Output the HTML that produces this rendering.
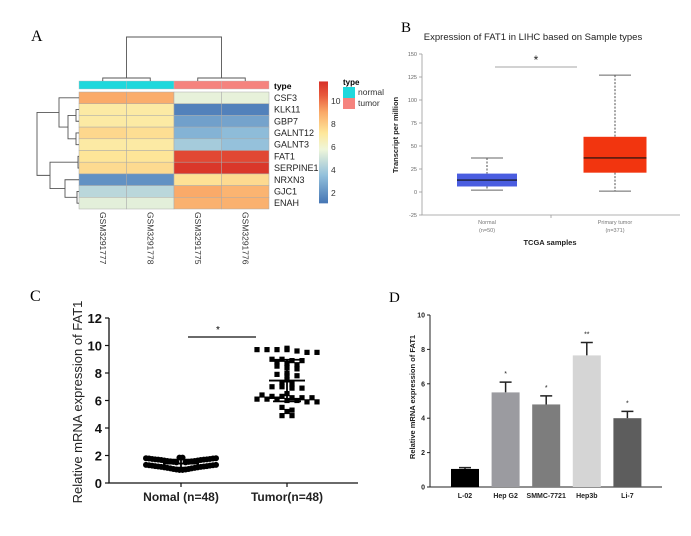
<!DOCTYPE html>
<html><head><meta charset="utf-8">
<style>
html,body{margin:0;padding:0;background:#fff;}
svg{display:block;font-family:"Liberation Sans",sans-serif;}
</style></head>
<body>
<svg id="fig" width="691" height="536" viewBox="0 0 691 536" xmlns="http://www.w3.org/2000/svg">
<g id="pA">
<text x="31" y="41" font-family="Liberation Serif,serif" font-size="16">A</text>
</g>
<g id="pB">
<text x="401" y="32" font-family="Liberation Serif,serif" font-size="15">B</text>
<text x="533" y="40" text-anchor="middle" font-size="9.5" fill="#222">Expression of FAT1 in LIHC based on Sample types</text>
</g>
<g id="pC">
<text x="30" y="301" font-family="Liberation Serif,serif" font-size="16">C</text>
</g>
<g id="pD">
<text x="389" y="302" font-family="Liberation Serif,serif" font-size="15">D</text>
</g>
</svg>
<script>
const NS="http://www.w3.org/2000/svg";
function mk(parent,tag,attrs,text){const e=document.createElementNS(NS,tag);for(const k in attrs)e.setAttribute(k,attrs[k]);if(text!==undefined)e.textContent=text;parent.appendChild(e);return e;}

// ---------- Panel A data ----------
const genes=["CSF3","KLK11","GBP7","GALNT12","GALNT3","FAT1","SERPINE1","NRXN3","GJC1","ENAH"];
const samples=["GSM3291777","GSM3291778","GSM3291775","GSM3291776"];
const sampleType=["normal","normal","tumor","tumor"];
const expr=[
[9.0,8.9,5.6,5.6],
[7.0,7.0,1.5,1.5],
[7.0,7.0,2.5,2.6],
[7.7,7.5,3.1,3.4],
[7.0,7.0,4.0,3.6],
[7.3,7.3,11.0,11.0],
[7.6,7.6,11.5,11.5],
[2.0,2.0,7.4,7.6],
[4.5,4.5,9.0,8.7],
[5.5,5.5,8.8,8.8]];
const cbTicks=[2,4,6,8,10];

const stops=[[1.1,[69,117,180]],[3.5,[145,191,219]],[5.8,[239,246,218]],[7.2,[254,232,155]],[9,[250,170,105]],[10.5,[232,90,60]],[11.7,[215,48,39]]];
function cmap(v){if(v<=stops[0][0])return stops[0][1];for(let i=1;i<stops.length;i++){if(v<=stops[i][0]){const a=stops[i-1],b=stops[i],t=(v-a[0])/(b[0]-a[0]);return a[1].map((c,k)=>Math.round(c+(b[1][k]-c)*t));}}return stops[stops.length-1][1];}
function rgb(c){return `rgb(${c[0]},${c[1]},${c[2]})`;}

(function(){
const g=document.getElementById('pA');
const hx=79,hy=92,cw=47.5,rh=11.7;
sampleType.forEach((t,j)=>{const r=mk(g,'rect',{x:hx+j*cw,y:81,width:cw,height:8,fill:t==='normal'?'#1fd8dc':'#f5837e',stroke:'#bbb','stroke-width':0.4});

});
const tl=mk(g,'text',{x:274,y:89,'font-size':8.5,'font-weight':'bold'},'type');


genes.forEach((gn,i)=>{
 expr[i].forEach((v,j)=>{const r=mk(g,'rect',{x:hx+j*cw,y:hy+i*rh,width:cw,height:rh,fill:rgb(cmap(v)),stroke:'#aaa','stroke-width':0.5});
 
 });
 const t=mk(g,'text',{x:274,y:hy+i*rh+rh/2+3,'font-size':9,fill:'#222'},gn);
 
 
});
samples.forEach((s,j)=>{const cx=hx+j*cw+cw/2;const t=mk(g,'text',{x:0,y:0,'font-size':8.5,fill:'#333',transform:`translate(${cx-3},212) rotate(90)`},s);

});
const cbY=v=>101+(10-v)*11.5;
const defs=mk(g,'defs',{});const lg=mk(defs,'linearGradient',{id:'cbg',x1:0,y1:1,x2:0,y2:0});
stops.forEach(s=>mk(lg,'stop',{offset:((s[0]-1.1)/(11.7-1.1)),'stop-color':rgb(s[1])}));
const cb=mk(g,'rect',{x:319,y:cbY(11.7),width:9,height:cbY(1.1)-cbY(11.7),fill:'url(#cbg)'});


cbTicks.forEach(v=>{const t=mk(g,'text',{x:331,y:cbY(v)+3,'font-size':8.5,fill:'#333'},String(v));

});
const lt=mk(g,'text',{x:343,y:85,'font-size':8,'font-weight':'bold'},'type');


[['normal','#1fd8dc'],['tumor','#f5837e']].forEach((d,i)=>{
 const r=mk(g,'rect',{x:343,y:87+i*11,width:12,height:11,fill:d[1]});
 
 
 const t=mk(g,'text',{x:358,y:95+i*11,'font-size':8.5,fill:'#333'},d[0]);
 
 });
const dp='#555';
const ry=i=>hy+rh*(i+0.5);
const col=j=>hx+cw*(j+0.5);
let d='';
d+=`M${col(0)} 81V78H${col(1)}V81 M${col(2)} 81V78H${col(3)}V81 M${(col(0)+col(1))/2} 78V37H${(col(2)+col(3))/2}V78`;
const a=(i1,i2)=>(ry(i1)+ry(i2))/2;
d+=`M79 ${ry(1)}H76V${ry(2)}H79 M79 ${ry(3)}H76V${ry(4)}H79`;
d+=`M76 ${a(1,2)}H68V${a(3,4)}H76`;
const m1=(a(1,2)+a(3,4))/2;
d+=`M79 ${ry(0)}H59V${m1}H68`;
d+=`M79 ${ry(5)}H78V${ry(6)}H79`;
d+=`M79 ${ry(8)}H77V${ry(9)}H79`;
d+=`M79 ${ry(7)}H65V${a(8,9)}H77`;
const m2=(ry(7)+a(8,9))/2;
d+=`M78 ${a(5,6)}H50V${m2}H65`;
const m3=(ry(0)+m1)/2, m4=(a(5,6)+m2)/2;
d+=`M59 ${m3}H37V${m4}H50`;
const dd=mk(g,'path',{d:d,fill:'none',stroke:dp,'stroke-width':0.9});


})();

// ---------- Panel B data ----------
const bCats=["Normal","Primary tumor"];
const bN=["(n=50)","(n=371)"];
const bQ1=[6,21],bMed=[13,37],bQ3=[20,60],bMin=[2,1],bMax=[37,127];
const bTicks=[-25,0,25,50,75,100,125,150];
(function(){
const g=document.getElementById('pB');
const y=v=>192-v*0.92;
const cx=[487,615],bw=[60,63],cap=[32,32],fills=['#4a5de0','#f2350f'];
const ax=mk(g,'path',{d:`M422 ${y(150)}V${y(-25)}H680`,stroke:'#999',fill:'none','stroke-width':0.8});


bTicks.forEach(v=>{mk(g,'line',{x1:419,x2:422,y1:y(v),y2:y(v),stroke:'#999','stroke-width':0.8});
const t=mk(g,'text',{x:417,y:y(v)+2,'font-size':5.5,fill:'#666','text-anchor':'end'},String(v));

});
mk(g,'line',{x1:551,x2:551,y1:y(-25),y2:y(-25)+3,stroke:'#999','stroke-width':0.8});
bCats.forEach((c,i)=>{
 const wl=mk(g,'path',{d:`M${cx[i]} ${y(bMax[i])}V${y(bQ3[i])}M${cx[i]} ${y(bQ1[i])}V${y(bMin[i])}`,stroke:'#222','stroke-dasharray':'2,1.5','stroke-width':0.8});
 
 
 const cp=mk(g,'path',{d:`M${cx[i]-cap[i]/2} ${y(bMax[i])}H${cx[i]+cap[i]/2}M${cx[i]-cap[i]/2} ${y(bMin[i])}H${cx[i]+cap[i]/2}`,stroke:'#666','stroke-width':1});
 
 
 const b=mk(g,'rect',{x:cx[i]-bw[i]/2,y:y(bQ3[i]),width:bw[i],height:y(bQ1[i])-y(bQ3[i]),fill:fills[i]});
 
 
 const md=mk(g,'line',{x1:cx[i]-bw[i]/2,x2:cx[i]+bw[i]/2,y1:y(bMed[i]),y2:y(bMed[i]),stroke:'#111','stroke-width':1.2});
 
 
 const t=mk(g,'text',{x:cx[i],y:224,'font-size':5.5,fill:'#777','text-anchor':'middle'},c);
 
 
 const t2=mk(g,'text',{x:cx[i],y:232,'font-size':5.5,fill:'#777','text-anchor':'middle'},bN[i]);
 
 
});
mk(g,'line',{x1:495,x2:577,y1:67,y2:67,stroke:'#888','stroke-width':0.7});
const st=mk(g,'text',{x:536,y:64,'font-size':12,'text-anchor':'middle',fill:'#222'},'*');


const yl=mk(g,'text',{x:0,y:0,'font-size':7.5,'font-weight':'bold',fill:'#222','text-anchor':'middle',transform:'translate(398,135) rotate(-90)'},'Transcript per million');


const xl=mk(g,'text',{x:550,y:245,'font-size':7.5,'font-weight':'bold',fill:'#222','text-anchor':'middle'},'TCGA samples');


})();

// ---------- Panel C data ----------
const cCats=["Nomal (n=48)","Tumor(n=48)"];
const cNormal=[1.8,1.78,1.75,1.72,1.7,1.67,1.64,1.6,1.57,1.54,1.5,1.85,1.85,1.5,1.54,1.57,1.6,1.64,1.67,1.7,1.72,1.75,1.78,1.8,
1.32,1.29,1.26,1.23,1.2,1.17,1.14,1.1,1.06,1.02,0.98,0.95,0.95,0.98,1.02,1.06,1.1,1.14,1.17,1.2,1.23,1.26,1.29,1.32];
const cTumor=[9.8,9.7,9.7,9.7,9.7,9.6,9.5,9.5,9.0,9.0,8.9,8.9,8.8,8.7,8.6,8.5,8.4,8.3,8.0,7.9,7.8,7.8,7.5,7.3,7.2,7.0,7.0,6.9,6.9,6.4,6.3,6.3,6.2,6.2,6.2,6.1,6.1,6.1,6.0,6.0,5.9,5.9,5.5,5.3,5.2,4.9,4.9,6.5];
const cTicks=[0,2,4,6,8,10,12];
(function(){
const g=document.getElementById('pC');
const y=v=>483-v*13.75;
const ax=mk(g,'path',{d:`M109 ${y(12)}V483H358`,stroke:'#111',fill:'none','stroke-width':1.3});


cTicks.forEach(v=>{mk(g,'line',{x1:105,x2:109,y1:y(v),y2:y(v),stroke:'#111','stroke-width':1.2});
const t=mk(g,'text',{x:102,y:y(v)+5,'font-size':13,'font-weight':'bold',fill:'#111','text-anchor':'end'},String(v));

});
const cxs=[181,287];
cxs.forEach((x,i)=>{mk(g,'line',{x1:x,x2:x,y1:483,y2:487,stroke:'#111','stroke-width':1.2});
const t=mk(g,'text',{x:x,y:501,'font-size':12,'font-weight':'bold',fill:'#222','text-anchor':'middle'},cCats[i]);

});
cNormal.forEach((v,k)=>{const j=k%24;const x=cxs[0]-35+j*70/23;
 const c=mk(g,'circle',{cx:x,cy:y(v),r:3,fill:'#000'});
 
 });
const bins={};
const idx=cTumor.map((v,i)=>i).sort((a,b)=>cTumor[b]-cTumor[a]);
idx.forEach(i=>{const b=Math.round(cTumor[i]/0.3);(bins[b]=bins[b]||[]).push(i);});
Object.keys(bins).forEach(b=>{const arr=bins[b];const sp=arr.length>1?Math.min(10,68/(arr.length-1)):0;arr.forEach((i,k)=>{const off=(k-(arr.length-1)/2)*sp;
 const r=mk(g,'rect',{x:cxs[1]+off-2.6,y:y(cTumor[i])-2.6,width:5.2,height:5.2,fill:'#000'});
 
 });});
function stats(a){const m=a.reduce((s,v)=>s+v,0)/a.length;const sd=Math.sqrt(a.reduce((s,v)=>s+(v-m)*(v-m),0)/(a.length-1));return [m,sd];}
[cNormal,cTumor].forEach((a,i)=>{const [m,sd]=stats(a);const x=cxs[i];
 const p=mk(g,'path',{d:`M${x-18} ${y(m)}H${x+18}M${x} ${y(m+sd)}V${y(m-sd)}M${x-14} ${y(m+sd)}H${x+14}M${x-14} ${y(m-sd)}H${x+14}`,stroke:'#000','stroke-width':1.8});
 
 });
mk(g,'line',{x1:188,x2:256,y1:337,y2:337,stroke:'#111','stroke-width':1.2});
const st=mk(g,'text',{x:218,y:333,'font-size':10,'text-anchor':'middle'},'*');


const yl=mk(g,'text',{x:0,y:0,'font-size':13,fill:'#222','text-anchor':'middle',transform:'translate(82,402) rotate(-90)'},'Relative mRNA expression of FAT1');


})();

// ---------- Panel D data ----------
const dCats=["L-02","Hep G2","SMMC-7721","Hep3b","Li-7"];
const dVals=[1.05,5.5,4.8,7.65,4.0];
const dErr=[0.08,0.6,0.5,0.75,0.4];
const dSig=["","*","*","**","*"];
const dTicks=[0,2,4,6,8,10];
(function(){
const g=document.getElementById('pD');
const y=v=>487-v*17.2;
const colors=['#000','#9b9ba0','#7d7d7d','#d5d5d5','#5d5d5d'];
const x0=465,step=40.6,bw=28;
const ax=mk(g,'path',{d:`M430 ${y(10)}V487H662`,stroke:'#222',fill:'none','stroke-width':1});


dTicks.forEach(v=>{mk(g,'line',{x1:427,x2:430,y1:y(v),y2:y(v),stroke:'#222','stroke-width':1});
const t=mk(g,'text',{x:425,y:y(v)+2.5,'font-size':7,'font-weight':'bold',fill:'#222','text-anchor':'end'},String(v));

});
dCats.forEach((c,i)=>{const cx=x0+i*step;
 const e=mk(g,'path',{d:`M${cx} ${y(dVals[i])}V${y(dVals[i]+dErr[i])}M${cx-6} ${y(dVals[i]+dErr[i])}H${cx+6}`,stroke:'#222','stroke-width':1.5});
 
 
 const r=mk(g,'rect',{x:cx-bw/2,y:y(dVals[i]),width:bw,height:487-y(dVals[i]),fill:colors[i]});
 
 
 if(dSig[i]){const s=mk(g,'text',{x:cx,y:y(dVals[i]+dErr[i])-6,'font-size':7,'text-anchor':'middle',fill:'#222'},dSig[i]);
 
 }
 const t=mk(g,'text',{x:cx,y:498,'font-size':7,'font-weight':'bold',fill:'#222','text-anchor':'middle'},c);
 
 
});
const yl=mk(g,'text',{x:0,y:0,'font-size':7.5,'font-weight':'bold',fill:'#222','text-anchor':'middle',transform:'translate(415,397) rotate(-90)'},'Relative mRNA expression of FAT1');


})();
</script>
</body></html>
